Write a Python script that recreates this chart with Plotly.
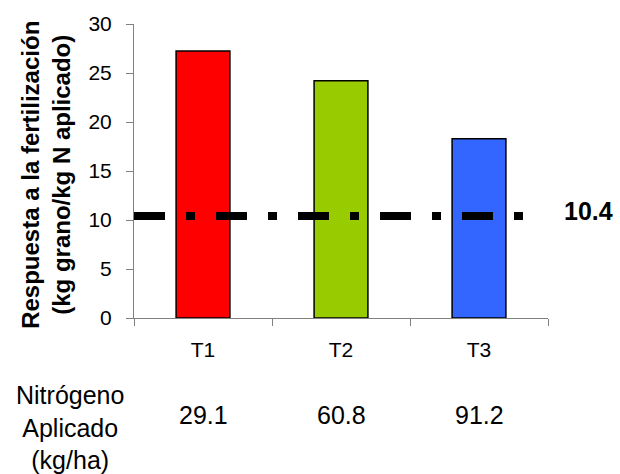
import plotly.graph_objects as go

# Respuesta a la fertilización por tratamiento
tratamientos = ["T1", "T2", "T3"]
respuesta = [27.25, 24.2, 18.3]
colores = ["#FF0000", "#99CC00", "#3366FF"]
nitrogeno_aplicado = ["29.1", "60.8", "91.2"]
umbral = 10.4

y_ticks = [0, 5, 10, 15, 20, 25, 30]

FONT = "Liberation Sans, Arial, sans-serif"
AXIS_GREY = "#808080"

fig = go.Figure()

fig.add_trace(go.Bar(
    x=tratamientos,
    y=respuesta,
    width=0.39,
    marker=dict(color=colores, line=dict(color="black", width=1.5)),
    showlegend=False,
    hoverinfo="x+y",
))

# Línea de referencia (trazo-punto) con su valor
fig.add_shape(
    type="line", xref="paper", yref="y",
    x0=0, x1=0.942, y0=umbral, y1=umbral,
    line=dict(color="black", width=8, dash="31px,21px,9px,21px"),
)
fig.add_annotation(
    xref="paper", yref="y", x=1.099, y=umbral, yshift=5,
    text=f"<b>{umbral}</b>", showarrow=False,
    font=dict(family=FONT, size=25, color="black"),
    xanchor="center", yanchor="middle",
)

# Fila de nitrógeno aplicado bajo cada tratamiento
for t, n in zip(tratamientos, nitrogeno_aplicado):
    fig.add_annotation(
        xref="x", yref="paper", x=t, y=-0.331,
        text=n, showarrow=False,
        font=dict(family=FONT, size=25, color="black"),
        xanchor="center", yanchor="middle",
    )
fig.add_annotation(
    xref="paper", yref="paper", x=-0.155, y=-0.372,
    text="Nitrógeno<br>Aplicado<br>(kg/ha)", showarrow=False,
    font=dict(family=FONT, size=25, color="black"),
    xanchor="center", yanchor="middle", align="center",
)

# Título del eje Y en dos líneas
fig.add_annotation(
    xref="paper", yref="paper", x=0, y=0.487, xshift=-88,
    text="<b>Respuesta a la fertilización<br>(kg grano/kg N aplicado)</b>",
    textangle=-90, showarrow=False,
    font=dict(family=FONT, size=24, color="black"),
    xanchor="center", yanchor="middle", align="center",
)

fig.update_layout(
    width=620, height=474,
    margin=dict(l=134, r=72, t=22, b=156),
    paper_bgcolor="white", plot_bgcolor="white",
    font=dict(family=FONT, color="black"),
    bargap=0.61,
)
fig.update_xaxes(
    type="category", range=[-0.5, 2.5],
    showline=True, linecolor=AXIS_GREY, linewidth=1,
    ticks="outside", ticklen=7, tickcolor=AXIS_GREY, tickson="boundaries",
    showgrid=False, zeroline=False,
    tickfont=dict(family=FONT, size=21, color="black"),
    ticklabelstandoff=13,
)
fig.update_yaxes(
    range=[0, 30], tickvals=y_ticks,
    showline=True, linecolor=AXIS_GREY, linewidth=1,
    ticks="outside", ticklen=7, tickcolor=AXIS_GREY,
    showgrid=False, zeroline=False,
    tickfont=dict(family=FONT, size=21, color="black"),
    ticklabelstandoff=10,
)

fig.write_html("out.html")
